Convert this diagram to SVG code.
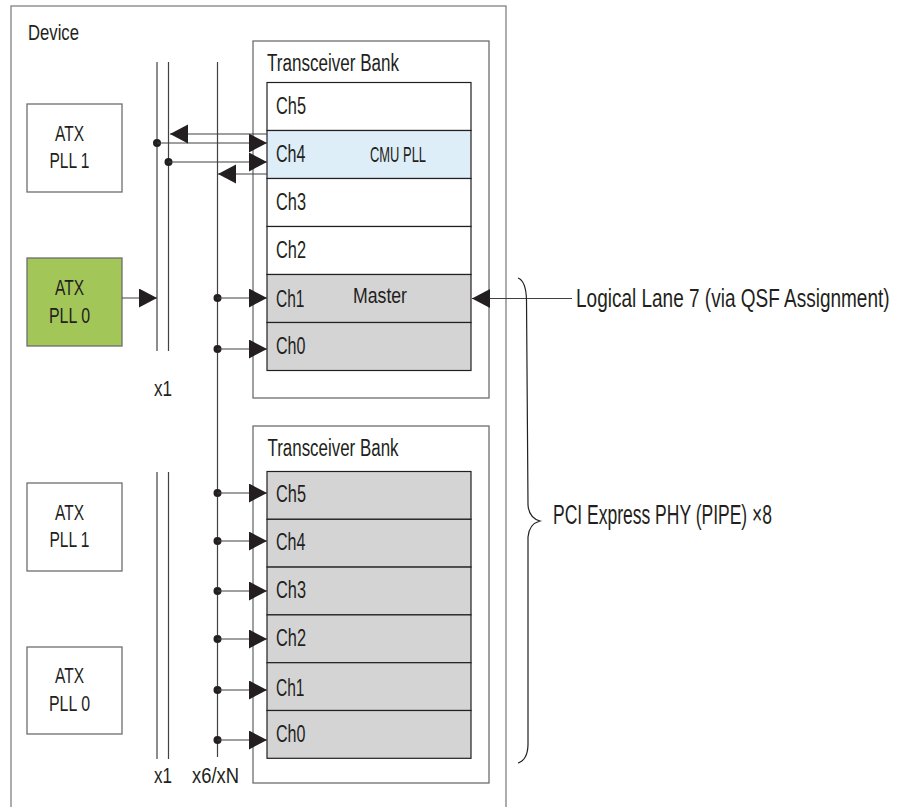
<svg xmlns="http://www.w3.org/2000/svg" width="899" height="807" viewBox="0 0 899 807">
<style>
text{font-family:"Liberation Sans",Arial,sans-serif;fill:#231f20}
.s{font-size:22.5px}
.c{font-size:23.5px}
.r{font-size:27px}
.m{text-anchor:middle}
.frame{fill:none;stroke:#808285;stroke-width:1.3}
.bank{fill:#fff;stroke:#6d6e71;stroke-width:1.3}
.pll{fill:#fff;stroke:#6d6e71;stroke-width:1.3}
.ch{stroke:#231f20;stroke-width:1.2}
.w{fill:#fff}.b{fill:#deeef8}.g{fill:#d5d4d5}
.bus{stroke:#414042;stroke-width:1.2;fill:none}
.ln{stroke:#414042;stroke-width:1.2;fill:none;marker-end:url(#ah)}
.dot{fill:#231f20}
</style>
<defs>
<marker id="ah" markerUnits="userSpaceOnUse" markerWidth="19" markerHeight="20" refX="18" refY="9.5" orient="auto">
<path d="M0,0 L18,9.5 L0,19 z" fill="#231f20"/>
</marker>
</defs>
<rect id="device" class="frame" x="11" y="6" width="495" height="830"/>
<text class="s" x="28" y="40" textLength="51" lengthAdjust="spacingAndGlyphs">Device</text>

<g id="atx1-top">
<rect class="pll" x="27" y="104" width="95" height="88"/>
<text class="s m" x="69.5" y="141" textLength="29" lengthAdjust="spacingAndGlyphs">ATX</text>
<text class="s m" x="69.5" y="168" textLength="40" lengthAdjust="spacingAndGlyphs">PLL 1</text>
</g>
<g id="atx0-top">
<rect x="27" y="258" width="95" height="88" fill="#a3c659" stroke="#6d6e71" stroke-width="1.3"/>
<text class="s m" x="69.5" y="295" textLength="29" lengthAdjust="spacingAndGlyphs">ATX</text>
<text class="s m" x="69.5" y="323" textLength="41" lengthAdjust="spacingAndGlyphs">PLL 0</text>
</g>
<g id="atx1-bottom">
<rect class="pll" x="27" y="483" width="95" height="88"/>
<text class="s m" x="69.5" y="520" textLength="29" lengthAdjust="spacingAndGlyphs">ATX</text>
<text class="s m" x="69.5" y="547" textLength="40" lengthAdjust="spacingAndGlyphs">PLL 1</text>
</g>
<g id="atx0-bottom">
<rect class="pll" x="27" y="647" width="95" height="87"/>
<text class="s m" x="69.5" y="683" textLength="29" lengthAdjust="spacingAndGlyphs">ATX</text>
<text class="s m" x="69.5" y="711" textLength="41" lengthAdjust="spacingAndGlyphs">PLL 0</text>
</g>

<g id="bank-top">
<rect class="bank" x="253" y="41" width="236" height="357"/>
<text class="c" x="267" y="71" textLength="132" lengthAdjust="spacingAndGlyphs">Transceiver Bank</text>
<g id="top-ch5"><rect class="ch w" x="267" y="82.5" width="204" height="48"/><text class="c" x="276" y="114" textLength="30" lengthAdjust="spacingAndGlyphs">Ch5</text></g>
<g id="top-ch4"><rect class="ch b" x="267" y="130.5" width="204" height="48"/><text class="c" x="276" y="162" textLength="29.5" lengthAdjust="spacingAndGlyphs">Ch4</text><text class="s" x="370" y="162" textLength="56" lengthAdjust="spacingAndGlyphs">CMU PLL</text></g>
<g id="top-ch3"><rect class="ch w" x="267" y="178.5" width="204" height="48"/><text class="c" x="276" y="210" textLength="30" lengthAdjust="spacingAndGlyphs">Ch3</text></g>
<g id="top-ch2"><rect class="ch w" x="267" y="226.5" width="204" height="48"/><text class="c" x="276" y="258" textLength="30" lengthAdjust="spacingAndGlyphs">Ch2</text></g>
<g id="top-ch1"><rect class="ch g" x="267" y="274.5" width="204" height="48"/><text class="c" x="276" y="307" textLength="28.5" lengthAdjust="spacingAndGlyphs">Ch1</text><text class="s" x="353" y="303" textLength="54" lengthAdjust="spacingAndGlyphs">Master</text></g>
<g id="top-ch0"><rect class="ch g" x="267" y="322.5" width="204" height="48"/><text class="c" x="276" y="354" textLength="29.5" lengthAdjust="spacingAndGlyphs">Ch0</text></g>
</g>

<g id="bank-bottom">
<rect class="bank" x="253" y="426" width="236" height="357"/>
<text class="c" x="267.5" y="456" textLength="131" lengthAdjust="spacingAndGlyphs">Transceiver Bank</text>
<g id="bot-ch5"><rect class="ch g" x="267" y="471.5" width="204" height="47.8"/><text class="c" x="276" y="502" textLength="30" lengthAdjust="spacingAndGlyphs">Ch5</text></g>
<g id="bot-ch4"><rect class="ch g" x="267" y="519.3" width="204" height="47.8"/><text class="c" x="276" y="550" textLength="29.5" lengthAdjust="spacingAndGlyphs">Ch4</text></g>
<g id="bot-ch3"><rect class="ch g" x="267" y="567.1" width="204" height="47.8"/><text class="c" x="276" y="598" textLength="30" lengthAdjust="spacingAndGlyphs">Ch3</text></g>
<g id="bot-ch2"><rect class="ch g" x="267" y="614.9" width="204" height="47.8"/><text class="c" x="276" y="646" textLength="30" lengthAdjust="spacingAndGlyphs">Ch2</text></g>
<g id="bot-ch1"><rect class="ch g" x="267" y="662.7" width="204" height="47.8"/><text class="c" x="276" y="696" textLength="28.5" lengthAdjust="spacingAndGlyphs">Ch1</text></g>
<g id="bot-ch0"><rect class="ch g" x="267" y="710.5" width="204" height="47.8"/><text class="c" x="276" y="742" textLength="29.5" lengthAdjust="spacingAndGlyphs">Ch0</text></g>
</g>

<g id="connectors">
<line class="bus" x1="157" y1="62" x2="157" y2="351"/>
<line class="bus" x1="168.5" y1="62" x2="168.5" y2="351"/>
<line class="bus" x1="217.5" y1="62" x2="217.5" y2="757"/>
<line class="bus" x1="157" y1="472" x2="157" y2="759"/>
<line class="bus" x1="168.5" y1="472" x2="168.5" y2="759"/>

<line class="ln" x1="122" y1="298" x2="157" y2="298"/>

<circle class="dot" cx="157" cy="143" r="4"/>
<line class="ln" x1="157" y1="143" x2="267" y2="143"/>
<line class="ln" x1="267" y1="134" x2="170" y2="134"/>
<circle class="dot" cx="168.5" cy="162" r="4"/>
<line class="ln" x1="168.5" y1="162" x2="267" y2="162"/>
<line class="ln" x1="267" y1="174" x2="218" y2="174"/>

<circle class="dot" cx="217.5" cy="298" r="4"/><line class="ln" x1="217.5" y1="298" x2="267" y2="298"/>
<circle class="dot" cx="217.5" cy="349" r="4"/><line class="ln" x1="217.5" y1="349" x2="267" y2="349"/>
<circle class="dot" cx="217.5" cy="493" r="4"/><line class="ln" x1="217.5" y1="493" x2="267" y2="493"/>
<circle class="dot" cx="217.5" cy="541" r="4"/><line class="ln" x1="217.5" y1="541" x2="267" y2="541"/>
<circle class="dot" cx="217.5" cy="591" r="4"/><line class="ln" x1="217.5" y1="591" x2="267" y2="591"/>
<circle class="dot" cx="217.5" cy="639" r="4"/><line class="ln" x1="217.5" y1="639" x2="267" y2="639"/>
<circle class="dot" cx="217.5" cy="690" r="4"/><line class="ln" x1="217.5" y1="690" x2="267" y2="690"/>
<circle class="dot" cx="217.5" cy="740" r="4"/><line class="ln" x1="217.5" y1="740" x2="267" y2="740"/>

<line class="ln" x1="572" y1="298.5" x2="472" y2="298.5"/>
<path d="M518,278 Q526,281 526.5,300 L528,505 Q529,518 540,521 Q529,524 528,537 L528,745 Q527.5,760 518,763" fill="none" stroke="#231f20" stroke-width="1.2"/>
</g>

<text class="s" x="154" y="396" textLength="18" lengthAdjust="spacingAndGlyphs">x1</text>
<text class="s" x="154" y="783" textLength="18" lengthAdjust="spacingAndGlyphs">x1</text>
<text class="s" x="192" y="783" textLength="47" lengthAdjust="spacingAndGlyphs">x6/xN</text>
<text transform="translate(576,307) scale(1,1.4)" x="0" y="0" style="font-size:19px">Logical Lane 7 (via QSF Assignment)</text>
<text class="r" x="553" y="524" textLength="219" lengthAdjust="spacingAndGlyphs">PCI Express PHY (PIPE) ×8</text>
</svg>
